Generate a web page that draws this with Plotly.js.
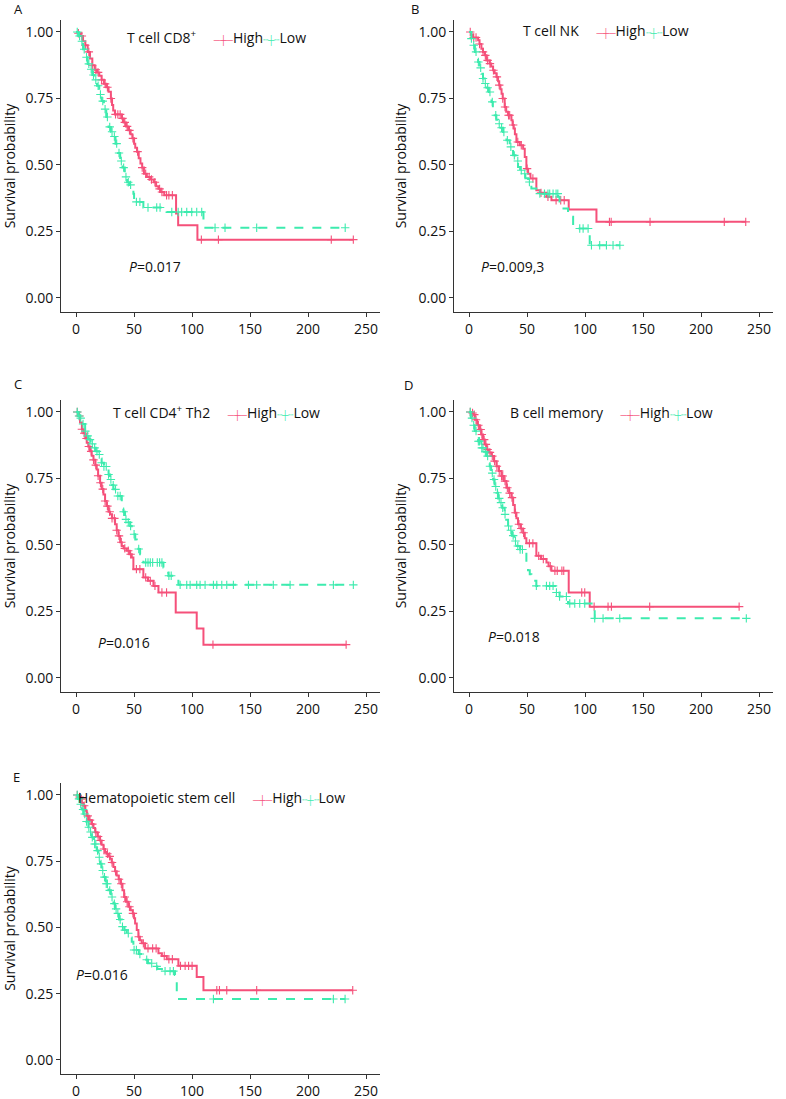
<!DOCTYPE html>
<html>
<head>
<meta charset="utf-8">
<script src="https://cdn.plot.ly/plotly-3.0.1.min.js"></script>
<style>
html,body{margin:0;padding:0;background:#fff;}
#chart{width:786px;height:1099px;}
</style>
</head>
<body>
<div id="chart"></div>
<script>
// ---------- DATA ----------
const panelLetters = ['A', 'B', 'C', 'D', 'E'];
const panelTitles = ['T cell CD8<sup>+</sup>', 'T cell NK', 'T cell CD4<sup>+</sup> Th2', 'B cell memory', 'Hematopoietic stem cell'];
const pValues = ['0.017', '0.009,3', '0.016', '0.018', '0.016'];
const groupNames = ['High', 'Low'];
const xTickValues = [0, 50, 100, 150, 200, 250];
const yTickValues = [0, 0.25, 0.5, 0.75, 1];

// Panel A: T cell CD8+
const aHighT = [0,2,4,6,8,10,12,14,16,18,20,22,24,26,28,30,31,32,33.5,39.5,41,43,45,47,48.5,50,51,52.5,54,55.5,57,58.5,61,64,67,69,71,73,76,86.2,88,104.6,239];
const aHighS = [1,.995,.985,.965,.95,.925,.90,.875,.858,.848,.835,.82,.805,.792,.775,.75,.725,.705,.69,.675,.66,.645,.63,.615,.60,.58,.565,.55,.525,.505,.49,.467,.455,.445,.435,.42,.41,.398,.386,.317,.273,.219,.219];
const aHighC = [2,5,8,11,14,17,19,22,25,27,30,34,36,38,40,42,44,46,49,53,57,60,63,65,68,72,74,78,80,83,108,122.7,220,239];
const aLowT = [0,2,4,6,8,10,12,14,16,18,20,22,24,26,28,30,32,34,36,38,40,42,44,46,48,49.4,50,58,78,109.8,233];
const aLowS = [1,.985,.965,.935,.905,.88,.86,.838,.82,.798,.765,.74,.71,.68,.643,.625,.607,.58,.545,.515,.49,.455,.435,.425,.41,.392,.361,.34,.323,.264,.264];
const aLowC = [1,3,5,7,9,11,13,15,17,19,21,23,25,27,29,31,33,35,37,39,41,43,45,47,52,55,62,69.5,72.4,82.5,88,91,95.4,99.7,104,108.3,119.8,128.4,155.7,232];

// Panel B: T cell NK
const bHighT = [0,2,3.4,7.8,9,10.6,12,13.5,15,17.8,19,20.7,22,23.6,25,26,27,28,29,30.7,32,33.6,36.5,37.5,38.5,39.5,40.8,43.7,46.6,48,49.4,50.9,52.9,58,61,66.7,71,85.9,109.8,238.5];
const bHighS = [1,.99,.979,.969,.955,.937,.925,.912,.893,.881,.87,.856,.845,.831,.815,.80,.785,.768,.75,.718,.70,.687,.668,.65,.637,.615,.586,.574,.561,.53,.486,.467,.449,.405,.395,.38,.367,.332,.286,.286];
const bHighC = [1,4,6,9,12,14,16,18,21,24,26,29,31,34,35,38,42,45,50,55,62,68,75,79,82,121,122.5,156,220,238.5];
const bLowT = [0,2,3.5,5,7.8,9,10.6,12,13.5,15,17,19.3,20.5,22,23.5,25,27,29.3,31,32.2,35,37.9,40,42.2,44,46.6,48.5,50.9,53.7,58,76.7,78,85.3,89.7,104,130];
const bLowS = [1,.975,.95,.925,.887,.865,.843,.825,.806,.79,.774,.737,.71,.687,.67,.655,.64,.624,.61,.593,.568,.536,.515,.492,.48,.467,.45,.436,.411,.392,.38,.336,.305,.261,.198,.198];
const bLowC = [2,4,6,8,10,12,14,16,18,20,23,26,28,30,33,36,39,42,45,48,52,61,65,68,69.5,72.4,75,76.5,95.4,98.3,102.6,105.5,112.6,118.4,124.1,130];

// Panel C: T cell CD4+ Th2
const cHighT = [0,2,3.4,5,6.3,8,9.2,10.5,12,13.5,15,16.5,17.8,19,20.7,22,23.6,25,26.4,28,29.3,31,33.6,35,36.5,38,39.4,41,43.7,46,48,49.4,58,62,66.7,71,85.9,104,109.8,232.8];
const cHighS = [1,.985,.96,.935,.92,.9,.884,.87,.852,.835,.82,.80,.784,.76,.734,.71,.69,.665,.646,.625,.615,.60,.578,.555,.534,.51,.496,.487,.478,.465,.453,.409,.378,.365,.346,.321,.246,.186,.125,.125];
const cHighC = [1,3,5,7,9,11,13,15,17,19,21,23,25,27,29,31,33,35,37,39,42,45,47,52,55,60,64,68,74,78,118,232.8];
const cLowT = [0,2,3.4,5,7.8,9,10.6,12.5,15,17,19.3,20.7,22,24,26.4,28,29.3,30.8,32.2,35,39.4,40.8,42.2,44.5,46.6,48,49.4,51,52.3,53.7,55.2,56.5,58,75.3,77,79.6,85.3,88.2,239];
const cLowS = [1,.985,.977,.955,.928,.91,.896,.88,.865,.852,.84,.825,.809,.795,.784,.765,.746,.725,.709,.684,.659,.625,.596,.585,.571,.555,.54,.52,.503,.485,.465,.45,.434,.415,.395,.384,.37,.35,.35];
const cLowC = [1,2.5,4,6,8,10,12,14,16,18,20,22,24,26,28,30,32,34,36,38,41,43,45,47,50,54,60,62,64,66,70,72,74,80,82,89.7,95.4,98.3,104,106.9,111.2,118.4,121.3,125.6,129.9,135.6,148.6,155.7,170,184.5,221.8,239];

// Panel D: B cell memory
const dHighT = [0,2,3.4,5,7,9.2,10.5,12,13.5,15,17,19.3,21.5,23.6,25.7,27.9,30,32.2,34.5,36.5,38,39.4,40.8,42.2,44.5,46.6,48,49.4,58,62,66.7,68.5,71,85.9,104,232.8];
const dHighS = [1,.996,.99,.971,.95,.934,.915,.896,.878,.859,.848,.834,.815,.796,.778,.759,.74,.715,.695,.678,.65,.621,.60,.578,.562,.546,.525,.506,.459,.447,.434,.42,.403,.321,.268,.268];
const dHighC = [1,3,4.5,6,8,10,11,13,14.5,16,18,20,22,24,26,28,29,31,33,35,37,40,43,45,47,52,55,60,64,70,74,76,80,81.6,97.1,99.7,107.8,119.8,122.7,155.7,232.8];
const dLowT = [0,1.5,3,4.9,7.8,10.6,13,15,17.8,19,20.7,22,23.6,25,26.4,28.5,30.7,32,33.6,35,37,39,40.8,44,48,49.4,50.8,52.3,53.7,55.2,58,75.3,78,85.3,108.3,239];
const dLowS = [1,.977,.95,.928,.89,.865,.85,.834,.796,.77,.746,.72,.696,.675,.659,.64,.615,.595,.571,.555,.535,.515,.496,.483,.471,.421,.405,.39,.378,.365,.346,.321,.306,.28,.224,.224];
const dLowC = [1,2.5,4,6,8,9,11,12,14,16,18,20,21.5,23,24.5,26,27.5,29,31,34,36,38,40,42,44,46,58,66.7,69.5,72.4,75.3,78,83.9,86.8,91.1,95.4,99.7,108.3,115.5,129.9,239];

// Panel E: Hematopoietic stem cell
const eHighT = [0,2,3.4,5,6.3,8,9.2,11,13.5,15,16.4,18.5,20.7,22,23.6,25,26.4,28,29.3,30.7,32.2,33.6,35,36.7,38.5,40,41.4,43,45.1,47,48.9,50,50.9,52.3,53.7,55,56.6,59.5,71,74,78.2,88.2,104,109.8,238.5];
const eHighS = [1,.992,.984,.97,.959,.94,.921,.905,.89,.875,.859,.843,.828,.812,.796,.785,.778,.768,.759,.745,.728,.712,.696,.682,.665,.64,.615,.597,.578,.565,.553,.535,.515,.49,.465,.452,.44,.421,.403,.392,.38,.355,.313,.263,.263];
const eHighC = [1,3,4.5,7,10,12,14,17,19,21,24,27,29,31,34,37,39,42,44,46,49,54,58,62,66,69,76,80,83,90,94,97,100,121.3,123.6,129.9,155.7,238.5];
const eLowT = [0,1.5,3.4,5,6.3,8.5,10.6,12,13.5,15.5,17.8,19.3,20.7,22,23.6,25.5,27.9,30,32.2,33.6,35,37,39.4,41.5,43.7,46,48,49.4,54,58,62,66.7,70,74,85.3,86.8,232];
const eLowS = [1,.985,.965,.945,.928,.9,.878,.86,.84,.815,.79,.765,.74,.715,.69,.665,.64,.615,.59,.57,.553,.53,.503,.49,.478,.462,.446,.415,.40,.378,.365,.353,.343,.335,.321,.23,.23];
const eLowC = [1,2.5,4,6,7.5,9,11,12.5,14,16,17,18.5,20,21.5,23,24.5,26,27,29,31,33,34.5,36,38,40,42,45,50,52,55,60.9,65.2,69.5,76.7,81,83.9,118.4,221.8,231.9];

// ---------- BUILD ----------
const seriesByPanel = [
  [[aHighT, aHighS, aHighC], [aLowT, aLowS, aLowC]],
  [[bHighT, bHighS, bHighC], [bLowT, bLowS, bLowC]],
  [[cHighT, cHighS, cHighC], [cLowT, cLowS, cLowC]],
  [[dHighT, dHighS, dHighC], [dLowT, dLowS, dLowC]],
  [[eHighT, eHighS, eHighC], [eLowT, eLowS, eLowC]]
];
const pPos = [[43.7, 0.117], [8.6, 0.117], [17.2, 0.134], [15, 0.156], [-1.7, 0.321]];

const colors = ['#F5507A', '#3DEBAE'];
const dashes = ['solid', 'dash'];
const keyGlyphs = ['\u2500\u253C\u2500', '\u254C\u253C\u254C'];
const FONT = 'Open Sans, Noto Sans, sans-serif';
const TXT = '#111';
const W = 786, H = 1099;

// plot boxes in pixels [left, right, top, bottom]
const boxes = [
  [61, 380, 20, 312],
  [454, 773, 20, 312],
  [61, 380, 400, 692],
  [454, 773, 400, 692],
  [61, 380, 783, 1074]
];
const legendPos = [[126, 37], [522, 30], [112, 412], [509, 412], [77, 797]];
const letterPos = [[18, 9], [415, 9], [17.5, 384], [408, 385], [16.5, 777]];

function stepValue(T, S, t) {
  let v = S[0];
  for (let i = 0; i < T.length; i++) { if (T[i] <= t) v = S[i]; else break; }
  return v;
}

const traces = [];
const layout = {
  width: W, height: H,
  margin: {l: 0, r: 0, t: 0, b: 0},
  paper_bgcolor: '#fff', plot_bgcolor: '#fff',
  font: {family: FONT, size: 14, color: TXT},
  showlegend: false,
  annotations: []
};

seriesByPanel.forEach((groups, p) => {
  const n = p + 1;
  const xa = 'x' + (n === 1 ? '' : n);
  const ya = 'y' + (n === 1 ? '' : n);
  groups.forEach((g, gi) => {
    const [T, S, C] = g;
    traces.push({
      type: 'scatter', mode: 'lines', x: T, y: S, xaxis: xa, yaxis: ya,
      line: {shape: 'hv', color: colors[gi], width: 2, dash: dashes[gi]},
      name: groupNames[gi], hoverinfo: 'skip'
    });
    traces.push({
      type: 'scatter', mode: 'markers', x: C, y: C.map(t => stepValue(T, S, t)),
      xaxis: xa, yaxis: ya, hoverinfo: 'skip', name: groupNames[gi] + ' censored',
      marker: {symbol: 'cross-thin', size: 6, line: {color: colors[gi], width: 1.1}, color: colors[gi]}
    });
  });
  const b = boxes[p];
  layout['xaxis' + (n === 1 ? '' : n)] = {
    domain: [b[0] / W, b[1] / W], anchor: ya, range: [-13, 262],
    showline: true, linecolor: '#333', linewidth: 1, mirror: false,
    showgrid: false, zeroline: false, ticks: 'outside', ticklen: 4, tickcolor: '#333',
    tickvals: xTickValues, tickfont: {size: 14, color: TXT}, fixedrange: true
  };
  layout['yaxis' + (n === 1 ? '' : n)] = {
    domain: [1 - b[3] / H, 1 - b[2] / H], anchor: xa, range: [-0.053, 1.045],
    showline: true, linecolor: '#333', linewidth: 1, mirror: false,
    showgrid: false, zeroline: false, ticks: 'outside', ticklen: 4, tickcolor: '#333',
    tickvals: yTickValues, tickformat: '.2f', tickfont: {size: 14, color: TXT},
    title: {text: 'Survival probability', font: {size: 14, color: TXT}, standoff: 8}, fixedrange: true
  };
  // legend-like header: title + keys
  const lp = legendPos[p];
  const keyText = panelTitles[p] + '\u2003 ' +
    groupNames.map((g, gi) => '<span style="color:' + colors[gi] + ';font-size:9px">' + keyGlyphs[gi] + '</span>' + g).join('');
  layout.annotations.push({
    xref: 'paper', yref: 'paper', x: lp[0] / W, y: 1 - lp[1] / H, xanchor: 'left', yanchor: 'middle',
    text: keyText, showarrow: false, font: {size: 14, color: TXT}, borderpad: 0
  });
  layout.annotations.push({
    xref: xa, yref: ya, x: pPos[p][0], y: pPos[p][1], xanchor: 'left', yanchor: 'middle',
    text: '<i>P</i>=' + pValues[p], showarrow: false, font: {size: 14, color: TXT}
  });
  const lt = letterPos[p];
  layout.annotations.push({
    xref: 'paper', yref: 'paper', x: lt[0] / W, y: 1 - lt[1] / H, xanchor: 'center', yanchor: 'middle',
    text: panelLetters[p], showarrow: false, font: {size: 13, color: TXT}
  });
});

Plotly.newPlot('chart', traces, layout, {displayModeBar: false, staticPlot: true});
</script>
</body>
</html>
